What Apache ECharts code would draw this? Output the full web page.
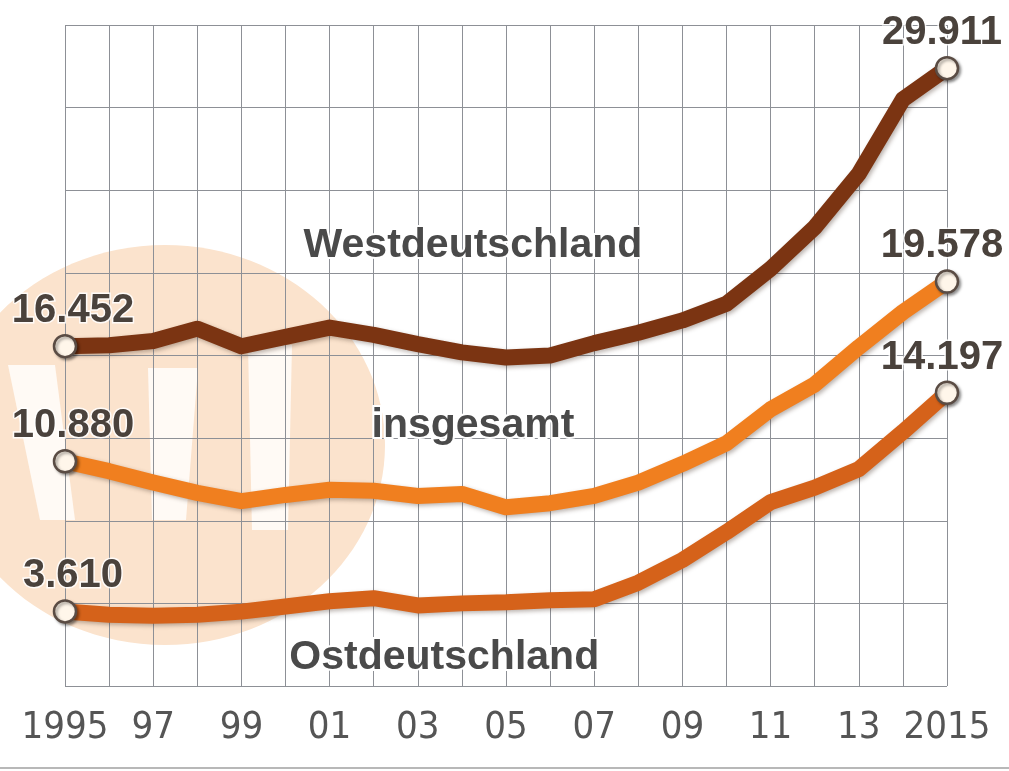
<!DOCTYPE html>
<html>
<head>
<meta charset="utf-8">
<script src="https://cdn.jsdelivr.net/npm/echarts@6/dist/echarts.min.js"></script>
<style>
html,body{margin:0;padding:0;background:#fff;}
#c{width:1009px;height:771px;}
</style>
</head>
<body>
<div id="c"></div>
<script>
const years = [1995,1996,1997,1998,1999,2000,2001,2002,2003,2004,2005,2006,2007,2008,2009,2010,2011,2012,2013,2014,2015];
const tickLabels = {1995:'1995',1997:'97',1999:'99',2001:'01',2003:'03',2005:'05',2007:'07',2009:'09',2011:'11',2013:'13',2015:'2015'};
const westValues = [16.452,16.5,16.7,17.3,16.45,16.9,17.35,17.0,16.55,16.15,15.9,16.0,16.6,17.1,17.7,18.5,20.2,22.2,24.8,28.4,29.911];
const totalValues = [10.88,10.4,9.85,9.35,8.95,9.25,9.5,9.45,9.2,9.3,8.65,8.85,9.2,9.85,10.75,11.75,13.4,14.6,16.4,18.1,19.578];
const eastValues = [3.61,3.45,3.4,3.45,3.6,3.85,4.1,4.25,3.9,4.0,4.05,4.15,4.2,5.0,6.1,7.45,8.9,9.6,10.5,12.3,14.197];
const seriesNames = ['Westdeutschland','insgesamt','Ostdeutschland'];
const nameAnchors = [[2004.25,21.3],[2004.25,12.6],[2003.6,1.35]];

const colors = ['#7b3412','#f07f1f','#d5621a'];
const valueLabelColor = '#4a423c';

function buildData(vals){
  const last = vals.length-1;
  return vals.map((v,i)=>{
    const endpoint = (i===0||i===last);
    return {
      value:[years[i],v],
      symbol: endpoint ? 'circle' : 'none',
      symbolSize: 22,
      label:{show:endpoint, offset: i===0 ? [8,0] : [-5,0]}
    };
  });
}

function makeSeries(idx, vals){
  return {
    name: seriesNames[idx],
    type:'line',
    data: buildData(vals),
    showSymbol:true,
    z: 3+ (idx===0?2:(idx===1?1:0)),
    lineStyle:{color:colors[idx],width:16,join:'round',cap:'round',
      shadowColor:'rgba(60,40,30,0.35)',shadowBlur:4,shadowOffsetX:2,shadowOffsetY:2},
    itemStyle:{color:'#fff6ea',borderColor:'#5a4c44',borderWidth:2.5,
      shadowColor:'rgba(0,0,0,0.35)',shadowBlur:3,shadowOffsetX:2,shadowOffsetY:2},
    label:{position:'top',distance:3,fontFamily:'Liberation Sans, Arial, sans-serif',
      fontWeight:'bold',fontSize:40,color:valueLabelColor,
      textBorderColor:'rgba(255,255,255,0.85)',textBorderWidth:3,
      formatter:p=>p.value[1].toFixed(3)},
    emphasis:{disabled:true},
    animation:false,
    markPoint:{
      symbol:'circle',symbolSize:1,
      itemStyle:{color:'rgba(0,0,0,0)'},
      label:{show:true,position:'inside',fontFamily:'Liberation Sans, Arial, sans-serif',
        fontWeight:'bold',fontSize:41,color:'#4a4a4a',
        textBorderColor:'#ffffff',textBorderWidth:4,
        formatter:()=>seriesNames[idx]},
      data:[{coord:nameAnchors[idx]}]
    }
  };
}

const chart = echarts.init(document.getElementById('c'),null,{renderer:'canvas'});
chart.setOption({
  backgroundColor:'#ffffff',
  animation:false,
  grid:{left:65,right:62,top:25,bottom:85,containLabel:false},
  xAxis:{type:'value',min:1995,max:2015,interval:1,
    axisLine:{show:false},axisTick:{show:false},
    splitLine:{show:true,lineStyle:{color:'#8d9096',width:1}},
    axisLabel:{margin:23,fontFamily:'DejaVu Sans Condensed, Liberation Sans Narrow, sans-serif',
      fontSize:38,color:'#555555',showMinLabel:true,showMaxLabel:true,
      formatter:v=>tickLabels[v]||''}},
  yAxis:{type:'value',min:0,max:32,interval:4,
    axisLine:{show:false},axisTick:{show:false},axisLabel:{show:false},
    splitLine:{show:true,lineStyle:{color:'#8d9096',width:1}}},
  graphic:[
    {type:'ellipse',z:-10,silent:true,shape:{cx:165,cy:445,rx:220,ry:200},style:{fill:'#fbe3cd'}},
    {type:'polygon',z:-9,silent:true,shape:{points:[[8,365],[55,365],[75,520],[40,520]]},style:{fill:'#fffaf5'}},
    {type:'polygon',z:-9,silent:true,shape:{points:[[148,368],[198,368],[186,520],[152,520]]},style:{fill:'#fffaf5'}},
    {type:'polygon',z:-9,silent:true,shape:{points:[[248,345],[292,345],[288,530],[252,530]]},style:{fill:'#fffaf5'}},
    {type:'line',z:-8,silent:true,shape:{x1:0,y1:768,x2:1009,y2:768},style:{stroke:'#b8b8b8',lineWidth:2}}
  ],
  series:[makeSeries(0,westValues),makeSeries(1,totalValues),makeSeries(2,eastValues)]
});
</script>
</body>
</html>
